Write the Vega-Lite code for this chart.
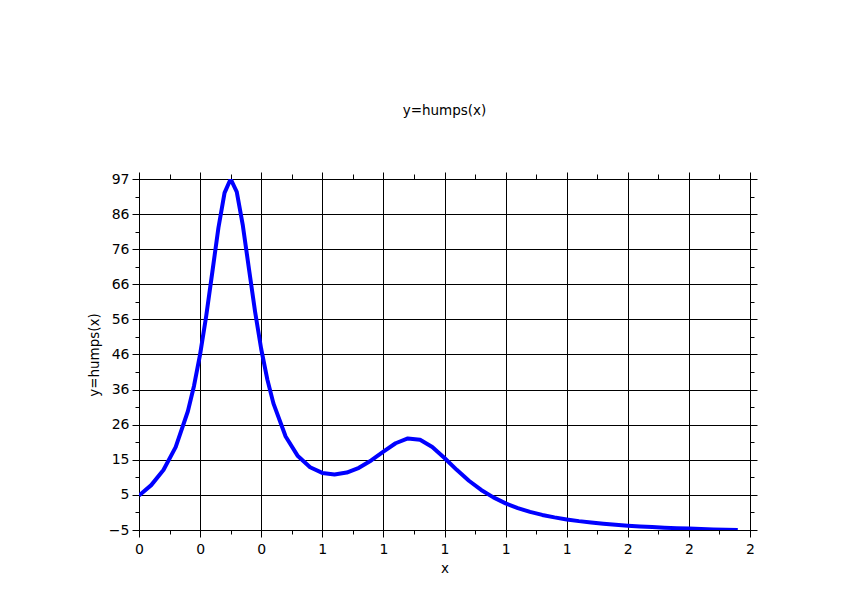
{
  "$schema": "https://vega.github.io/schema/vega-lite/v6.json",
  "autosize": "none",
  "width": 611,
  "height": 351,
  "padding": {"left": 139, "top": 179, "right": 103, "bottom": 73},
  "background": "white",
  "title": {
    "text": "y=humps(x)",
    "font": "DejaVu Sans",
    "fontSize": 13.5,
    "fontWeight": "normal",
    "color": "black",
    "anchor": "middle",
    "frame": "group",
    "offset": 54
  },
  "config": {
    "view": {"stroke": "black", "strokeWidth": 1},
    "axis": {
      "domainColor": "black",
      "domainWidth": 1,
      "tickColor": "black",
      "tickWidth": 1,
      "gridColor": "black",
      "gridWidth": 1,
      "labelFont": "DejaVu Sans",
      "labelFontSize": 14,
      "labelColor": "black",
      "titleFont": "DejaVu Sans",
      "titleFontSize": 13.5,
      "titleFontWeight": "normal",
      "titleColor": "black",
      "labelOverlap": false,
      "labelFlush": false
    }
  },
  "data": {
    "values": [
      {"x": 0.00, "y": 5.176},
      {"x": 0.04, "y": 8.170},
      {"x": 0.08, "y": 12.527},
      {"x": 0.12, "y": 19.127},
      {"x": 0.16, "y": 29.486},
      {"x": 0.18, "y": 36.775},
      {"x": 0.20, "y": 45.887},
      {"x": 0.22, "y": 56.966},
      {"x": 0.24, "y": 69.632},
      {"x": 0.26, "y": 82.431},
      {"x": 0.28, "y": 92.510},
      {"x": 0.30, "y": 96.500},
      {"x": 0.32, "y": 92.811},
      {"x": 0.34, "y": 83.035},
      {"x": 0.36, "y": 70.545},
      {"x": 0.38, "y": 58.197},
      {"x": 0.40, "y": 47.448},
      {"x": 0.42, "y": 38.682},
      {"x": 0.44, "y": 31.758},
      {"x": 0.48, "y": 22.206},
      {"x": 0.52, "y": 16.546},
      {"x": 0.56, "y": 13.313},
      {"x": 0.60, "y": 11.692},
      {"x": 0.64, "y": 11.256},
      {"x": 0.68, "y": 11.789},
      {"x": 0.72, "y": 13.177},
      {"x": 0.76, "y": 15.291},
      {"x": 0.80, "y": 17.846},
      {"x": 0.84, "y": 20.252},
      {"x": 0.88, "y": 21.639},
      {"x": 0.92, "y": 21.288},
      {"x": 0.96, "y": 19.180},
      {"x": 1.00, "y": 16.000},
      {"x": 1.04, "y": 12.572},
      {"x": 1.08, "y": 9.429},
      {"x": 1.12, "y": 6.777},
      {"x": 1.16, "y": 4.628},
      {"x": 1.20, "y": 2.912},
      {"x": 1.24, "y": 1.546},
      {"x": 1.28, "y": 0.454},
      {"x": 1.32, "y": -0.427},
      {"x": 1.36, "y": -1.143},
      {"x": 1.40, "y": -1.732},
      {"x": 1.44, "y": -2.221},
      {"x": 1.48, "y": -2.630},
      {"x": 1.52, "y": -2.976},
      {"x": 1.56, "y": -3.272},
      {"x": 1.60, "y": -3.525},
      {"x": 1.64, "y": -3.744},
      {"x": 1.68, "y": -3.935},
      {"x": 1.72, "y": -4.103},
      {"x": 1.76, "y": -4.250},
      {"x": 1.80, "y": -4.381},
      {"x": 1.84, "y": -4.497},
      {"x": 1.88, "y": -4.601},
      {"x": 1.92, "y": -4.695},
      {"x": 1.96, "y": -4.779}
    ]
  },
  "resolve": {"axis": {"x": "independent", "y": "independent"}},
  "layer": [
    {
      "mark": {"type": "line", "color": "#0000ff", "strokeWidth": 4, "strokeJoin": "round", "clip": true},
      "encoding": {
        "x": {
          "field": "x", "type": "quantitative",
          "scale": {"domain": [0, 2], "nice": false, "zero": false},
          "axis": {
            "orient": "bottom",
            "title": "x",
            "values": [0, 0.1, 0.2, 0.3, 0.4, 0.5, 0.6, 0.7, 0.8, 0.9, 1.0, 1.1, 1.2, 1.3, 1.4, 1.5, 1.6, 1.7, 1.8, 1.9, 2.0],
            "labelExpr": "round(datum.value*10) % 2 == 1 ? '' : format(datum.value, '.0f')",
            "grid": true,
            "gridOpacity": {"condition": {"test": "round(datum.value*10) % 2 == 1", "value": 0}, "value": 1},
            "tickSize": {"condition": {"test": "round(datum.value*10) % 2 == 1", "value": 4}, "value": 7},
            "labelPadding": 5,
            "titlePadding": 5
          }
        },
        "y": {
          "field": "y", "type": "quantitative",
          "scale": {"domain": [-4.779, 96.5], "nice": false, "zero": false},
          "axis": {
            "orient": "left",
            "title": "y=humps(x)",
            "values": [-4.779, 0.285, 5.349, 10.413, 15.477, 20.541, 25.605, 30.669, 35.733, 40.797, 45.861, 50.924, 55.988, 61.052, 66.116, 71.180, 76.244, 81.308, 86.372, 91.436, 96.5],
            "labelExpr": "abs((datum.value + 4.779) / 10.1279 - round((datum.value + 4.779) / 10.1279)) > 0.25 ? '' : format(datum.value, '.0f')",
            "grid": true,
            "gridOpacity": {"condition": {"test": "abs((datum.value + 4.779) / 10.1279 - round((datum.value + 4.779) / 10.1279)) > 0.25", "value": 0}, "value": 1},
            "tickSize": {"condition": {"test": "abs((datum.value + 4.779) / 10.1279 - round((datum.value + 4.779) / 10.1279)) > 0.25", "value": 4}, "value": 7},
            "labelPadding": 3,
            "titlePadding": 7
          }
        }
      }
    },
    {
      "mark": {"type": "line", "opacity": 0},
      "encoding": {
        "x": {
          "field": "x", "type": "quantitative",
          "axis": {
            "orient": "top",
            "title": null,
            "labels": false,
            "grid": false,
            "values": [0, 0.1, 0.2, 0.3, 0.4, 0.5, 0.6, 0.7, 0.8, 0.9, 1.0, 1.1, 1.2, 1.3, 1.4, 1.5, 1.6, 1.7, 1.8, 1.9, 2.0],
            "tickSize": {"condition": {"test": "round(datum.value*10) % 2 == 1", "value": 5}, "value": 7}
          }
        },
        "y": {
          "field": "y", "type": "quantitative",
          "axis": {
            "orient": "right",
            "title": null,
            "labels": false,
            "grid": false,
            "values": [-4.779, 0.285, 5.349, 10.413, 15.477, 20.541, 25.605, 30.669, 35.733, 40.797, 45.861, 50.924, 55.988, 61.052, 66.116, 71.180, 76.244, 81.308, 86.372, 91.436, 96.5],
            "tickSize": {"condition": {"test": "abs((datum.value + 4.779) / 10.1279 - round((datum.value + 4.779) / 10.1279)) > 0.25", "value": 4}, "value": 7}
          }
        }
      }
    }
  ]
}
